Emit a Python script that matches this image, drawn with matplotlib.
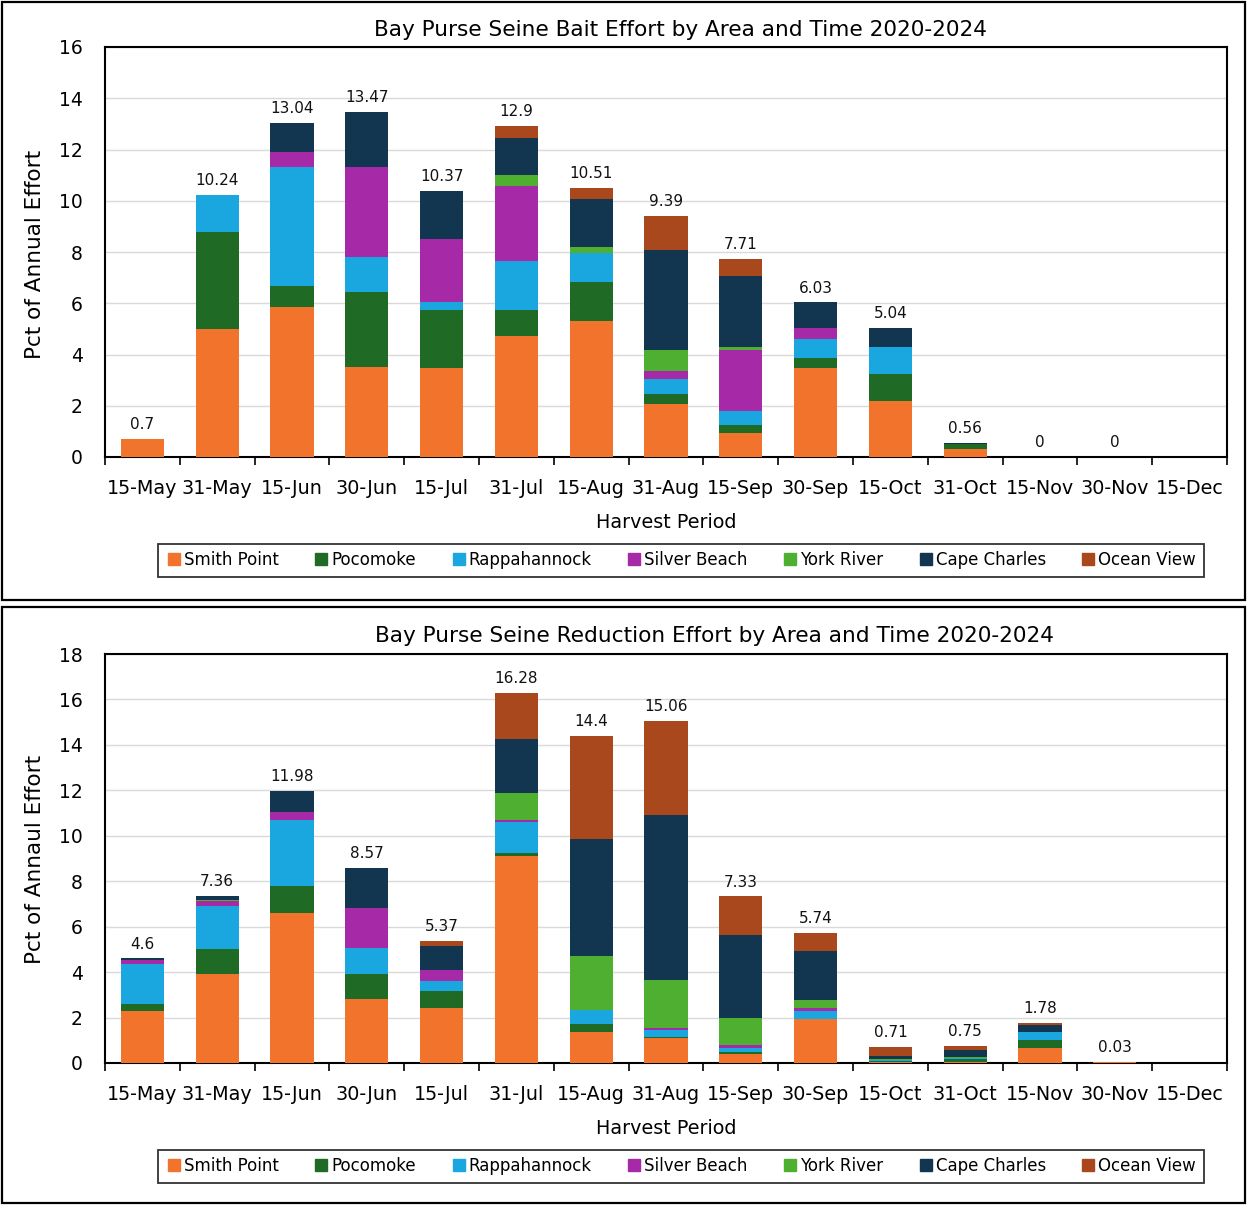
import matplotlib
matplotlib.use("Agg")
import matplotlib.pyplot as plt
import numpy as np
from matplotlib.lines import Line2D
from matplotlib.patches import Rectangle

plt.rcParams['font.family'] = ['DejaVu Sans']

periods = ["15-May", "31-May", "15-Jun", "30-Jun", "15-Jul", "31-Jul", "15-Aug",
           "31-Aug", "15-Sep", "30-Sep", "15-Oct", "31-Oct", "15-Nov", "30-Nov", "15-Dec"]
areas = ["Smith Point", "Pocomoke", "Rappahannock", "Silver Beach", "York River",
         "Cape Charles", "Ocean View"]
colors = ["#F2742C", "#1F6B26", "#1AA6DE", "#A62AA8", "#4FAF31", "#123650", "#A8481C"]

# Bait effort (top chart)
bait_smith_point = [0.7, 5.0, 5.85, 3.5, 3.46, 4.73, 5.29, 2.07, 0.95, 3.46, 2.2, 0.3, 0, 0, 0]
bait_pocomoke = [0, 3.78, 0.84, 2.92, 2.28, 1.0, 1.53, 0.39, 0.29, 0.42, 1.03, 0.22, 0, 0, 0]
bait_rappahannock = [0, 1.46, 4.63, 1.4, 0.29, 1.92, 1.14, 0.6, 0.56, 0.72, 1.07, 0, 0, 0, 0]
bait_silver_beach = [0, 0, 0.57, 3.48, 2.47, 2.94, 0, 0.3, 2.38, 0.43, 0, 0, 0, 0, 0]
bait_york_river = [0, 0, 0, 0, 0, 0.42, 0.23, 0.82, 0.1, 0, 0, 0, 0, 0, 0]
bait_cape_charles = [0, 0, 1.15, 2.17, 1.87, 1.43, 1.88, 3.91, 2.8, 1.0, 0.74, 0.04, 0, 0, 0]
bait_ocean_view = [0, 0, 0, 0, 0, 0.46, 0.44, 1.3, 0.63, 0, 0, 0, 0, 0, 0]
bait_totals = [0.7, 10.24, 13.04, 13.47, 10.37, 12.9, 10.51, 9.39, 7.71, 6.03, 5.04, 0.56, 0, 0, None]

# Reduction effort (bottom chart)
red_smith_point = [2.29, 3.93, 6.58, 2.83, 2.42, 9.11, 1.36, 1.1, 0.38, 1.92, 0.05, 0.03, 0.68, 0.03, 0]
red_pocomoke = [0.31, 1.1, 1.2, 1.1, 0.75, 0.15, 0.37, 0.05, 0.1, 0.0, 0.05, 0.15, 0.32, 0, 0]
red_rappahannock = [1.77, 1.87, 2.93, 1.15, 0.43, 1.35, 0.59, 0.3, 0.18, 0.37, 0.03, 0.02, 0.38, 0, 0]
red_silver_beach = [0.15, 0.22, 0.34, 1.72, 0.48, 0.07, 0, 0.1, 0.12, 0.13, 0, 0, 0, 0, 0]
red_york_river = [0, 0.07, 0, 0, 0, 1.22, 2.39, 2.1, 1.2, 0.34, 0.06, 0.08, 0, 0, 0]
red_cape_charles = [0.08, 0.17, 0.93, 1.77, 1.06, 2.38, 5.14, 7.26, 3.64, 2.16, 0.1, 0.3, 0.3, 0, 0]
red_ocean_view = [0, 0, 0, 0, 0.23, 2.0, 4.55, 4.15, 1.71, 0.82, 0.42, 0.17, 0.1, 0, 0]
red_totals = [4.6, 7.36, 11.98, 8.57, 5.37, 16.28, 14.4, 15.06, 7.33, 5.74, 0.71, 0.75, 1.78, 0.03, None]

bait_series = [bait_smith_point, bait_pocomoke, bait_rappahannock, bait_silver_beach,
               bait_york_river, bait_cape_charles, bait_ocean_view]
red_series = [red_smith_point, red_pocomoke, red_rappahannock, red_silver_beach,
              red_york_river, red_cape_charles, red_ocean_view]

W, H = 1247, 1205
fig = plt.figure(figsize=(W / 100, H / 100), dpi=100)


def fx(px):
    return px / W


def fy(py):
    return 1 - py / H


# panel frames
for (y0, y1) in [(2, 600), (607, 1203)]:
    fig.patches.append(Rectangle((fx(2), fy(y1)), fx(1243), (y1 - y0) / H,
                                 transform=fig.transFigure, fill=False,
                                 edgecolor="black", linewidth=1.6, zorder=0))


def draw(top_px, bot_px, series, totals, ymax, title, title_cx, title_y, ylabel,
         ylabel_cy, xlabel_y, legend_y):
    ax = fig.add_axes([fx(105), fy(bot_px), fx(1122), (bot_px - top_px) / H])
    x = np.arange(len(periods))
    bottom = np.zeros(len(periods))
    for vals, c, name in zip(series, colors, areas):
        v = np.array(vals, dtype=float)
        ax.bar(x, v, width=0.58, bottom=bottom, color=c, label=name, zorder=3,
               linewidth=0)
        bottom += v
    for xi, t in zip(x, totals):
        if t is None:
            continue
        ax.annotate(f"{t:g}", (xi, bottom[xi]), xytext=(0, 5), textcoords="offset points",
                    ha="center", va="bottom", fontsize=11, color="#111111", zorder=5)
    ax.set_xlim(-0.5, len(periods) - 0.5)
    ax.set_ylim(0, ymax)
    ax.set_yticks(np.arange(0, ymax + 1, 2))
    ax.yaxis.grid(True, color="#D9D9D9", linewidth=1.0, zorder=0)
    ax.set_axisbelow(True)
    ax.tick_params(axis="y", length=0, pad=16, labelsize=13.5)
    ax.set_xticks(np.arange(-0.5, len(periods) - 0.4, 1.0))
    ax.set_xticklabels([])
    ax.tick_params(axis="x", which="major", length=6, width=1.2, direction="out")
    ax.set_xticks(x, minor=True)
    ax.set_xticklabels(periods, minor=True, fontsize=13.8)
    ax.tick_params(axis="x", which="minor", length=0, pad=16)
    for s in ax.spines.values():
        s.set_linewidth(1.5)
        s.set_color("black")
    fig.text(fx(title_cx), fy(title_y), title, ha="center", va="center", fontsize=15.6)
    fig.text(fx(35), fy(ylabel_cy), ylabel, rotation=90, ha="center", va="center",
             fontsize=15.5)
    fig.text(fx(666), fy(xlabel_y), "Harvest Period", ha="center", va="center",
             fontsize=13.8)
    handles = [Line2D([], [], marker="s", linestyle="none", markersize=8,
                      markerfacecolor=c, markeredgecolor=c) for c in colors]
    leg = fig.legend(handles, areas, loc="center", bbox_to_anchor=(fx(681), fy(legend_y)),
                     ncol=7, fontsize=12, frameon=True, fancybox=False,
                     edgecolor="black", handletextpad=0.1, columnspacing=2.05,
                     handlelength=1.0, borderpad=0.45)
    leg.get_frame().set_linewidth(1.3)
    return ax


draw(47, 457, bait_series, bait_totals, 16,
     "Bay Purse Seine Bait Effort by Area and Time 2020-2024", 680, 30,
     "Pct of Annual Effort", 254, 523, 560)
draw(654, 1063, red_series, red_totals, 18,
     "Bay Purse Seine Reduction Effort by Area and Time 2020-2024", 715, 636,
     "Pct of Annaul Effort", 859, 1129, 1166)

fig.savefig("out.png", dpi=100)
